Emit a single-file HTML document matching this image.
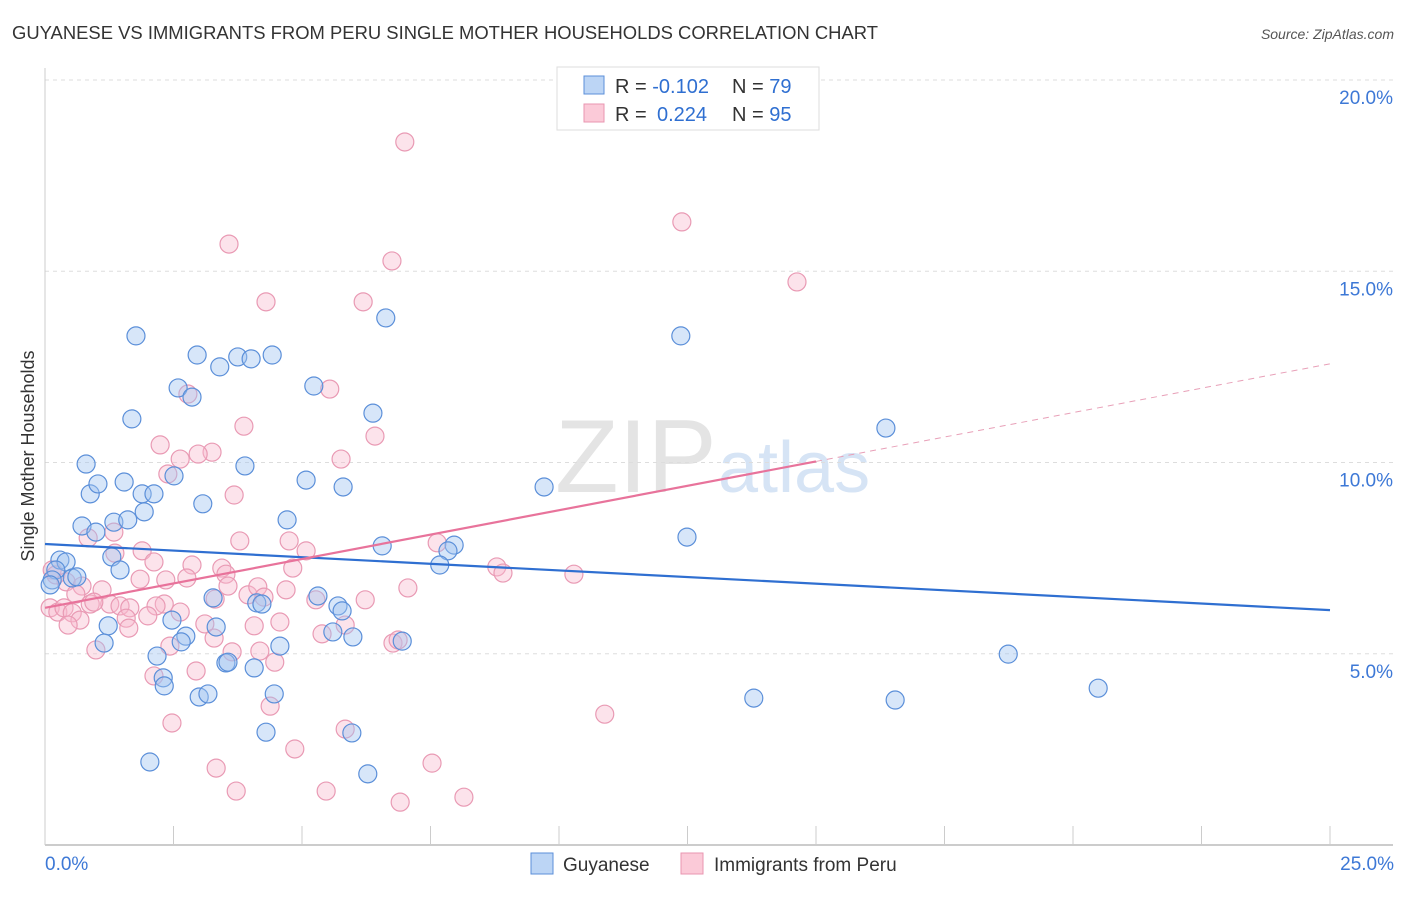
<!DOCTYPE html>
<html><head><meta charset="utf-8"><style>
body{margin:0;background:#fff;font-family:"Liberation Sans",sans-serif}
svg text{font-family:"Liberation Sans",sans-serif}
</style></head><body>
<svg id="chart" width="1406" height="892" viewBox="0 0 1406 892">
<text x="12" y="39" font-size="18.5" fill="#333" textLength="866" lengthAdjust="spacingAndGlyphs">GUYANESE VS IMMIGRANTS FROM PERU SINGLE MOTHER HOUSEHOLDS CORRELATION CHART</text>
<text x="1394" y="39" font-size="14" fill="#555" font-style="italic" text-anchor="end">Source: ZipAtlas.com</text>
<text x="555" y="492" font-size="104" fill="#e4e4e4" font-family="Liberation Serif">ZIP</text>
<text x="718" y="492" font-size="72" fill="#d6e4f5">atlas</text>
<g id="grid"></g>
<g id="axes"></g>
<g id="pts"></g>
<g id="lines"></g>
<text transform="translate(34,456) rotate(-90)" font-size="18" fill="#333" text-anchor="middle">Single Mother Households</text>
<g>
<rect x="557" y="67" width="262" height="63" fill="#fff" stroke="#ddd"/>
<rect x="584" y="76" width="20" height="18" fill="#bcd5f5" stroke="#5b8fd9"/>
<rect x="584" y="104" width="20" height="18" fill="#fbcad8" stroke="#e896b0"/>
<text x="615" y="93" font-size="20" fill="#333">R = <tspan fill="#2f6fd1">-0.102</tspan><tspan x="732">N = </tspan><tspan fill="#2f6fd1">79</tspan></text>
<text x="615" y="121" font-size="20" fill="#333">R = <tspan fill="#2f6fd1" x="657">0.224</tspan><tspan x="732">N = </tspan><tspan fill="#2f6fd1">95</tspan></text>
</g>
<g>
<rect x="531" y="853" width="22" height="21" fill="#bcd5f5" stroke="#5b8fd9"/>
<text x="563" y="871" font-size="19" fill="#333">Guyanese</text>
<rect x="681" y="853" width="22" height="21" fill="#fbcad8" stroke="#e896b0"/>
<text x="714" y="871" font-size="19" fill="#333">Immigrants from Peru</text>
</g>
</svg>
<script>
const yTicks=[5,10,15,20];
const yTickLabels=["5.0%","10.0%","15.0%","20.0%"];
const xTicks=[0,2.5,5,7.5,10,12.5,15,17.5,20,22.5,25];
const blueX=[1.77,2.96,3.75,4.01,4.42,3.40,2.59,2.86,1.69,5.23,6.63,6.38,0.80,3.89,0.88,1.03,1.54,1.89,2.12,2.51,1.93,3.07,5.08,0.72,0.99,1.34,1.61,4.71,5.80,12.37,16.36,12.49,6.56,7.96,7.84,7.68,0.29,0.41,0.21,0.14,0.53,0.62,0.10,1.30,1.46,1.23,1.15,2.47,2.74,2.65,2.18,2.30,2.32,3.27,3.33,4.12,4.22,4.57,5.31,5.70,5.78,5.60,5.99,6.95,3.52,3.56,4.07,3.00,3.17,4.46,4.30,5.97,2.04,6.28,13.79,16.54,18.74,20.49,9.71];
const blueY=[13.31,12.81,12.76,12.71,12.81,12.50,11.95,11.71,11.14,12.00,13.78,11.29,9.96,9.91,9.18,9.44,9.49,9.18,9.18,9.65,8.71,8.92,9.54,8.34,8.18,8.44,8.50,8.50,9.36,13.31,10.90,8.05,7.82,7.84,7.69,7.32,7.45,7.40,7.19,6.93,6.98,7.01,6.80,7.53,7.19,5.73,5.28,5.88,5.46,5.31,4.94,4.37,4.16,6.46,5.70,6.33,6.30,5.20,6.51,6.25,6.12,5.57,5.44,5.33,4.76,4.78,4.63,3.87,3.95,3.95,2.95,2.93,2.17,1.86,3.84,3.79,4.99,4.10,9.36];
const pinkX=[7.00,12.39,3.58,6.75,14.63,4.30,6.19,5.54,2.78,3.87,6.42,2.24,3.25,2.98,2.63,2.39,5.76,3.68,1.34,0.84,3.79,4.75,5.08,1.36,1.89,2.12,4.82,7.63,8.79,8.91,10.29,7.06,2.86,3.44,3.52,2.76,1.85,2.35,3.56,3.95,4.14,4.26,3.31,4.69,5.27,6.23,0.14,0.21,0.41,0.72,1.11,0.60,0.88,1.26,1.46,0.10,0.25,0.37,0.53,0.95,1.65,2.32,2.63,2.16,2.00,1.58,0.68,0.45,4.07,1.63,4.57,3.11,5.39,5.84,6.77,6.87,3.29,3.64,4.18,4.47,0.99,2.43,2.94,2.12,4.38,2.47,4.86,5.84,3.33,7.53,3.72,5.47,6.91,8.15,10.89];
const pinkY=[18.38,16.29,15.71,15.27,14.72,14.20,14.20,11.92,11.79,10.95,10.69,10.46,10.27,10.22,10.09,9.70,10.09,9.15,8.18,8.03,7.95,7.95,7.69,7.63,7.69,7.40,7.24,7.90,7.27,7.11,7.08,6.72,7.32,7.24,7.08,6.98,6.95,6.93,6.77,6.54,6.75,6.48,6.43,6.67,6.41,6.41,7.19,7.06,6.88,6.77,6.67,6.56,6.30,6.30,6.25,6.20,6.09,6.20,6.07,6.35,6.20,6.30,6.09,6.25,5.99,5.93,5.88,5.75,5.73,5.67,5.83,5.78,5.52,5.75,5.28,5.36,5.41,5.05,5.07,4.78,5.10,5.20,4.55,4.42,3.63,3.19,2.51,3.03,2.01,2.14,1.41,1.41,1.12,1.25,3.42];
const blueTrend=[7.87,6.14];
const pinkTrend=[6.20,12.58];
const pinkSolidEnd=15;
const NS="http://www.w3.org/2000/svg";
const X0=45,X1=1330,Y0=845,PY=38.25;
function sx(v){return X0+(X1-X0)*v/25;}
function sy(v){return Y0-v*PY;}
function mk(tag,attrs,parent){const e=document.createElementNS(NS,tag);for(const k in attrs)e.setAttribute(k,attrs[k]);parent.appendChild(e);return e;}
const grid=document.getElementById('grid'),axes=document.getElementById('axes'),pts=document.getElementById('pts'),lines=document.getElementById('lines');
yTicks.forEach(function(t,i){
  const l=mk('line',{x1:45,x2:1393,y1:sy(t),y2:sy(t),stroke:'#ddd','stroke-dasharray':'4,4'},grid);
  
  
  const tx=mk('text',{x:1393,y:sy(t)+24,'font-size':19,fill:'#3d78d6','text-anchor':'end'},axes);
  tx.textContent=yTickLabels[i];
  
  
});
const ya=mk('line',{x1:45,x2:45,y1:68,y2:845,stroke:'#ccc'},axes);


const xa=mk('line',{x1:45,x2:1393,y1:845,y2:845,stroke:'#bbb','stroke-width':1.5},axes);


xTicks.forEach(function(t){
  const l=mk('line',{x1:sx(t),x2:sx(t),y1:826,y2:845,stroke:'#ccc'},axes);
  
  
});
const xl0=mk('text',{x:45,y:870,'font-size':19,fill:'#3d78d6'},axes);xl0.textContent='0.0%';


const xl1=mk('text',{x:1394,y:870,'font-size':19,fill:'#3d78d6','text-anchor':'end'},axes);xl1.textContent='25.0%';


pinkX.forEach(function(v,i){
  const c=mk('circle',{cx:sx(v),cy:sy(pinkY[i]),r:9,fill:'rgba(248,185,205,0.4)',stroke:'#e99ab4','stroke-width':1.2},pts);
  
  
});
blueX.forEach(function(v,i){
  const c=mk('circle',{cx:sx(v),cy:sy(blueY[i]),r:9,fill:'rgba(160,195,240,0.42)',stroke:'#5b8fd9','stroke-width':1.2},pts);
  
  
});
const bl=mk('line',{x1:sx(0),y1:sy(blueTrend[0]),x2:sx(25),y2:sy(blueTrend[1]),stroke:'#2f6fd1','stroke-width':2.2},lines);


const pm=pinkTrend[0]+(pinkTrend[1]-pinkTrend[0])*pinkSolidEnd/25;
const pl=mk('line',{x1:sx(0),y1:sy(pinkTrend[0]),x2:sx(pinkSolidEnd),y2:sy(pm),stroke:'#e8739b','stroke-width':2.2},lines);


const pd=mk('line',{x1:sx(pinkSolidEnd),y1:sy(pm),x2:sx(25),y2:sy(pinkTrend[1]),stroke:'#e8a0b8','stroke-width':1,'stroke-dasharray':'6,5'},lines);


</script>
</body></html>
